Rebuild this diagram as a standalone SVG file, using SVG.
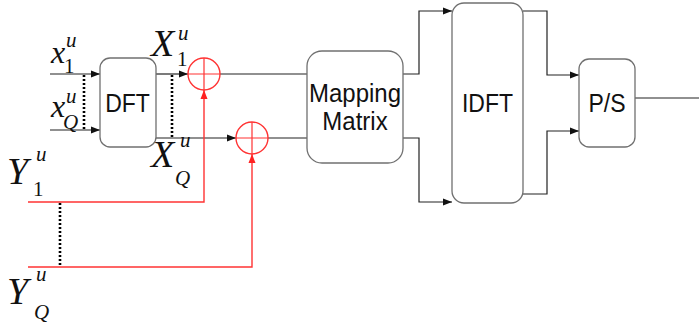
<svg xmlns="http://www.w3.org/2000/svg" width="699" height="323" viewBox="0 0 699 323">
<style>
.box{fill:#fff;stroke:#707070;stroke-width:1.3}
.ln{fill:none;stroke:#222;stroke-width:1.2}
.rd{fill:none;stroke:#f33;stroke-width:1.4}
.dot{fill:none;stroke:#000;stroke-width:2.6;stroke-dasharray:2,2}
.lbl{font-family:"Liberation Sans",Arial,sans-serif;font-size:23px;fill:#111;text-anchor:middle}
.m{font-family:"Liberation Serif","Times New Roman",serif;font-style:italic;fill:#111}
.n{font-family:"Liberation Serif","Times New Roman",serif;fill:#111}
</style>
<defs>
<marker id="ab" markerUnits="userSpaceOnUse" markerWidth="9" markerHeight="8" refX="9" refY="4" orient="auto"><path d="M0,0.5 L9,4 L0,7.5 z" fill="#111"/></marker>
<marker id="ar" markerUnits="userSpaceOnUse" markerWidth="9" markerHeight="8" refX="9" refY="4" orient="auto"><path d="M0,0.5 L9,4 L0,7.5 z" fill="#f22"/></marker>
</defs>
<g id="connectors">
<path class="ln" d="M50,74 H100" marker-end="url(#ab)"/>
<path class="ln" d="M50,130 H100" marker-end="url(#ab)"/>
<path class="dot" d="M84,75 V130"/>
<path class="ln" d="M156,74 H188" marker-end="url(#ab)"/>
<path class="ln" d="M156,138 H236" marker-end="url(#ab)"/>
<path class="dot" d="M172,75 V138"/>
<path class="ln" d="M220,74 H307"/>
<path class="ln" d="M268,138 H307"/>
<path class="rd" d="M28,202 H204 V90" marker-end="url(#ar)"/>
<path class="rd" d="M28,267 H252 V154" marker-end="url(#ar)"/>
<path class="dot" d="M60,203 V267"/>
<path class="ln" d="M403,74 H419 V11 H452" marker-end="url(#ab)"/>
<path class="ln" d="M403,138 H419 V202 H452" marker-end="url(#ab)"/>
<path class="ln" d="M523,11 H547 V75 H579" marker-end="url(#ab)"/>
<path class="ln" d="M523,194 H547 V131 H579" marker-end="url(#ab)"/>
<path class="ln" d="M635,98 H699"/>
</g>
<g id="sum1">
<circle cx="204" cy="74" r="16" fill="none" stroke="#f33" stroke-width="1.4"/>
<path d="M188,74 H220 M204,58 V90" stroke="#f33" stroke-width="1.2"/>
</g>
<g id="sum2">
<circle cx="252" cy="138" r="16" fill="none" stroke="#f33" stroke-width="1.4"/>
<path d="M236,138 H268 M252,122 V154" stroke="#f33" stroke-width="1.2"/>
</g>
<g id="dft">
<rect class="box" x="100" y="58" width="56" height="89" rx="10"/>
<text class="lbl" transform="translate(127.5,112) scale(1,1.1)">DFT</text>
</g>
<g id="mapping">
<rect class="box" x="307" y="51" width="96" height="112" rx="15"/>
<text class="lbl" transform="translate(355,102) scale(1,1.1)" style="font-size:24px">Mapping</text>
<text class="lbl" transform="translate(355,130) scale(1,1.1)" style="font-size:24px">Matrix</text>
</g>
<g id="idft">
<rect class="box" x="452" y="3" width="71" height="200" rx="12"/>
<text class="lbl" transform="translate(487.5,112) scale(1,1.1)">IDFT</text>
</g>
<g id="ps">
<rect class="box" x="579" y="59" width="56" height="88" rx="10"/>
<text class="lbl" transform="translate(607,112) scale(1,1.1)">P/S</text>
</g>
<g id="label-x1">
<text class="m" x="51" y="63" font-size="32">x</text>
<text class="m" x="66" y="47" font-size="21">u</text>
<text class="n" x="64" y="73" font-size="21">1</text>
</g>
<g id="label-xQ">
<text class="m" x="51" y="117" font-size="32">x</text>
<text class="m" x="66" y="103" font-size="21">u</text>
<text class="m" x="63" y="129" font-size="21">Q</text>
</g>
<g id="label-X1">
<text class="m" x="151" y="56" font-size="38">X</text>
<text class="m" x="178" y="40" font-size="21">u</text>
<text class="n" x="177" y="66" font-size="21">1</text>
</g>
<g id="label-XQ">
<text class="m" x="151" y="167" font-size="38">X</text>
<text class="m" x="180" y="147" font-size="21">u</text>
<text class="m" x="175" y="185" font-size="21">Q</text>
</g>
<g id="label-Y1">
<text class="m" x="7" y="184" font-size="38">Y</text>
<text class="m" x="36" y="161" font-size="21">u</text>
<text class="n" x="33" y="196" font-size="21">1</text>
</g>
<g id="label-YQ">
<text class="m" x="7" y="304" font-size="38">Y</text>
<text class="m" x="36" y="281" font-size="21">u</text>
<text class="m" x="34" y="319" font-size="21">Q</text>
</g>
</svg>
